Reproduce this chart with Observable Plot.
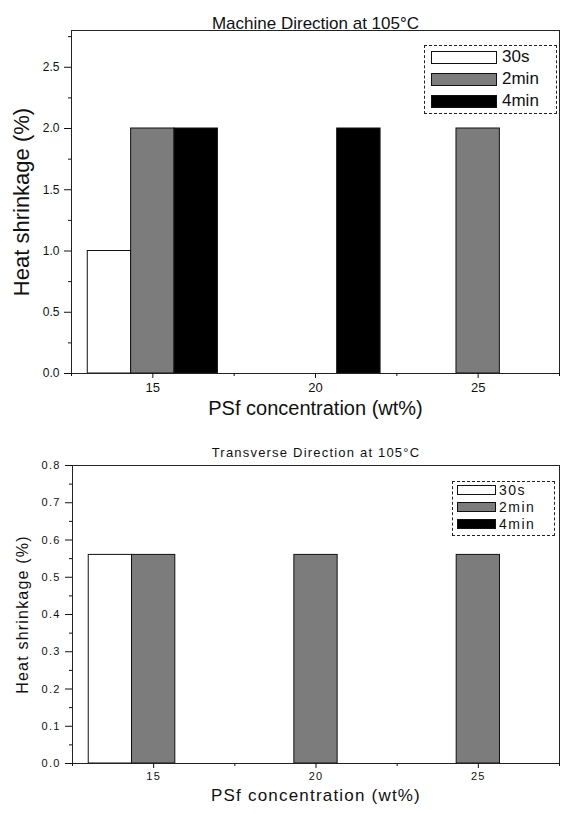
<!DOCTYPE html>
<html>
<head>
<meta charset="utf-8">
<script src="https://cdn.jsdelivr.net/npm/d3@7"></script>
<script src="https://cdn.jsdelivr.net/npm/@observablehq/plot@0.6"></script>
<style>
  body { margin: 0; background: #fff; font-family: Arial, "Liberation Sans", sans-serif; }
  #wrap { position: relative; width: 561px; height: 814px; overflow: hidden; background: #fff; }
  .panel { position: absolute; left: 0; }
  .panel svg { overflow: visible; }
  .bottomplot text { letter-spacing: 1.2px; }
  .legend { position: absolute; border: 1px dashed #222; background: #fff; box-sizing: border-box; }
  .legend .row { position: absolute; left: 0; display: flex; align-items: center; }
  .legend .sw { box-sizing: border-box; border: 1px solid #111; }
  .legend .lab { color: #111; white-space: nowrap; }
</style>
</head>
<body>
<div id="wrap"></div>
<script>
// ---- data ----
const concentrations = [15, 20, 25];           // PSf concentration (wt%)
const series = ["30s", "2min", "4min"];         // heating time
const mdShrink30s  = [1.0, 0, 0];               // Machine direction
const mdShrink2min = [2.0, 0, 2.0];
const mdShrink4min = [2.0, 2.0, 0];
const tdShrink30s  = [0.56, 0, 0];              // Transverse direction
const tdShrink2min = [0.56, 0.56, 0.56];
const tdShrink4min = [0, 0, 0];
const xTicks = [15, 20, 25];
const xMinorTicks = [12.5, 17.5, 22.5, 27.5];
const yTicksTop = [0, 0.5, 1.0, 1.5, 2.0, 2.5];
const yMinorTop = [0.25, 0.75, 1.25, 1.75, 2.25, 2.75];
const yTicksBottom = [0, 0.1, 0.2, 0.3, 0.4, 0.5, 0.6, 0.7, 0.8];
const yMinorBottom = [0.05, 0.15, 0.25, 0.35, 0.45, 0.55, 0.65, 0.75];
const titleTop = "Machine Direction at 105°C";
const titleBottom = "Transverse Direction at 105°C";
const yLabel = "Heat shrinkage (%)";
const xLabel = "PSf concentration (wt%)";

// ---- styling ----
const colors = ["#ffffff", "#7c7c7c", "#000000"];
const groupWidth = 4;

function rows(arrays) {
  const out = [];
  concentrations.forEach((c, i) => {
    series.forEach((s, j) => {
      const v = arrays[j][i];
      if (v > 0) out.push({conc: c, series: s, j, value: v});
    });
  });
  return out;
}

function panel(opts) {
  const data = rows(opts.arrays);
  const bw = groupWidth / series.length;
  return Plot.plot({
    className: opts.className,
    width: 561,
    height: opts.height,
    marginLeft: opts.marginLeft,
    marginRight: 2,
    marginTop: opts.marginTop,
    marginBottom: opts.marginBottom,
    style: {fontFamily: "Arial, 'Liberation Sans', sans-serif", color: "#111", background: "transparent"},
    x: {domain: [12.5, 27.5]},
    y: {domain: opts.yDomain},
    color: {domain: series, range: colors},
    marks: [
      Plot.rectY(data, {
        x1: d => d.conc - groupWidth / 2 + d.j * bw,
        x2: d => d.conc - groupWidth / 2 + (d.j + 1) * bw,
        y: "value",
        fill: "series",
        stroke: "#111",
        strokeWidth: 1,
        inset: 0
      }),
      Plot.frame({stroke: "#222", strokeWidth: 1}),
      Plot.axisX(xTicks, {tickSize: 5, tickPadding: 4, tickFormat: d => String(d), label: null, fontSize: opts.xTickFont}),
      Plot.axisX(xMinorTicks, {tickSize: 3, tickFormat: () => "", label: null}),
      Plot.axisY(opts.yTicks, {tickSize: 7, tickPadding: 5, tickFormat: ".1f", label: null, fontSize: opts.yTickFont}),
      Plot.axisY(opts.yMinor, {tickSize: 3, tickFormat: () => "", label: null}),
      Plot.text([opts.title], {text: d => d, frameAnchor: "top", dy: opts.titleDy, fontSize: opts.titleFont}),
      Plot.text([xLabel], {text: d => d, frameAnchor: "bottom", dy: opts.xLabelDy, fontSize: opts.xLabelFont}),
      Plot.text([yLabel], {text: d => d, frameAnchor: "left", textAnchor: "middle", rotate: -90, dx: opts.yLabelDx, fontSize: opts.yLabelFont})
    ]
  });
}

function legend(o) {
  const div = document.createElement("div");
  div.className = "legend";
  Object.assign(div.style, {left: o.left + "px", top: o.top + "px", width: o.width + "px", height: o.height + "px"});
  series.forEach((s, j) => {
    const row = document.createElement("div");
    row.className = "row";
    Object.assign(row.style, {top: (o.firstRow + j * o.rowGap - o.top - o.rowH / 2 - 1) + "px", height: o.rowH + "px", left: o.swLeft + "px"});
    const sw = document.createElement("div");
    sw.className = "sw";
    Object.assign(sw.style, {width: o.swW + "px", height: o.swH + "px", background: colors[j]});
    const lab = document.createElement("span");
    lab.className = "lab";
    lab.textContent = s;
    Object.assign(lab.style, {fontSize: o.font + "px", marginLeft: o.gap + "px", letterSpacing: o.ls + "px"});
    row.appendChild(sw); row.appendChild(lab);
    div.appendChild(row);
  });
  return div;
}

const wrap = document.getElementById("wrap");

const top1 = document.createElement("div");
top1.className = "panel"; top1.style.top = "0px";
top1.appendChild(panel({
  className: "topplot", arrays: [mdShrink30s, mdShrink2min, mdShrink4min],
  height: 430, marginLeft: 71, marginTop: 30, marginBottom: 57,
  yDomain: [0, 2.8], yTicks: yTicksTop, yMinor: yMinorTop,
  title: titleTop, titleDy: -14, titleFont: 17,
  xLabelDy: 41, xLabelFont: 20, yLabelDx: -50, yLabelFont: 22,
  xTickFont: 13, yTickFont: 12
}));
wrap.appendChild(top1);

const bot = document.createElement("div");
bot.className = "panel"; bot.style.top = "430px";
bot.appendChild(panel({
  className: "bottomplot", arrays: [tdShrink30s, tdShrink2min, tdShrink4min],
  height: 384, marginLeft: 72, marginTop: 35, marginBottom: 51,
  yDomain: [0, 0.8], yTicks: yTicksBottom, yMinor: yMinorBottom,
  title: titleBottom, titleDy: -18, titleFont: 13,
  xLabelDy: 37, xLabelFont: 17, yLabelDx: -50, yLabelFont: 16,
  xTickFont: 11, yTickFont: 11
}));
wrap.appendChild(bot);

wrap.appendChild(legend({left: 424, top: 45, width: 133, height: 69, firstRow: 57, rowGap: 22, rowH: 20,
  swLeft: 6, swW: 66, swH: 13, font: 17, gap: 5, ls: 0}));
wrap.appendChild(legend({left: 452, top: 481, width: 103, height: 55, firstRow: 490, rowGap: 17, rowH: 16,
  swLeft: 4, swW: 39, swH: 10, font: 14, gap: 3, ls: 1.5}));
</script>
</body>
</html>
